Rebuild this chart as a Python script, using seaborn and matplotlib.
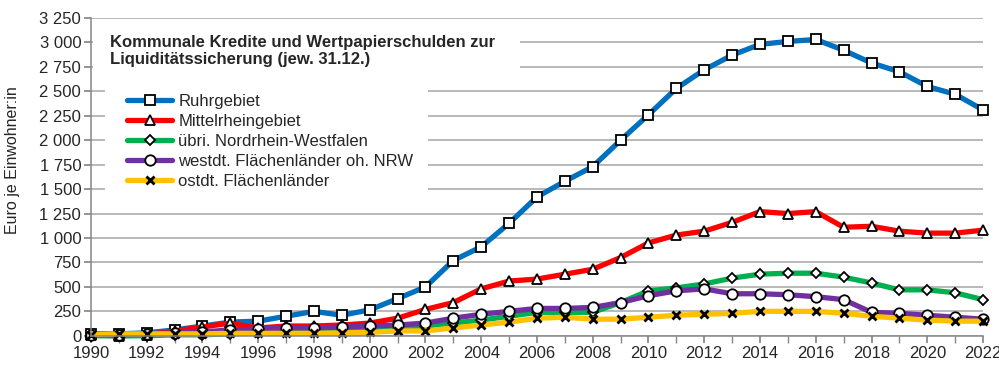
import matplotlib
matplotlib.use("Agg")
import matplotlib.pyplot as plt
import matplotlib.ticker as mticker
from matplotlib.lines import Line2D
from matplotlib.patches import Rectangle
import seaborn as sns
import pandas as pd

years = list(range(1990, 2023))
ruhrgebiet = [20, 20, 30, 60, 100, 140, 150, 200, 250, 210, 265, 380, 500, 770, 910, 1150,
              1420, 1580, 1730, 2000, 2260, 2530, 2720, 2870, 2980, 3010, 3030, 2920, 2790,
              2700, 2550, 2470, 2310]
mittelrhein = [10, 0, 10, 50, 90, 130, 80, 100, 100, 110, 130, 180, 270, 340, 480, 560,
               580, 630, 680, 800, 950, 1030, 1070, 1160, 1270, 1250, 1270, 1110, 1120,
               1070, 1050, 1050, 1080]
uebri_nrw = [0, 0, 0, 10, 10, 20, 30, 40, 40, 45, 50, 70, 100, 130, 160, 200,
             240, 240, 240, 340, 460, 490, 530, 590, 630, 640, 640, 600, 540,
             470, 470, 440, 370]
westdt = [10, 10, 20, 30, 40, 60, 70, 80, 80, 90, 100, 110, 130, 180, 220, 250,
          280, 280, 290, 340, 410, 460, 480, 430, 430, 420, 400, 370, 240,
          230, 210, 190, 170]
ostdt = [10, 20, 20, 20, 20, 25, 25, 25, 25, 30, 35, 50, 50, 80, 110, 140,
         180, 190, 170, 170, 190, 210, 220, 230, 250, 250, 250, 230, 200,
         180, 160, 150, 150]

series_names = ["Ruhrgebiet", "Mittelrheingebiet", "übri. Nordrhein-Westfalen",
                "westdt. Flächenländer oh. NRW", "ostdt. Flächenländer"]
series_values = [ruhrgebiet, mittelrhein, uebri_nrw, westdt, ostdt]
colors = ["#0070C0", "#FF0000", "#00B050", "#7030A0", "#FFC000"]
markers = ["s", "^", "D", "o", "x"]
title = "Kommunale Kredite und Wertpapierschulden zur\nLiquiditätssicherung (jew. 31.12.)"
ylabel = "Euro je Einwohner:in"

rows = []
for name, vals in zip(series_names, series_values):
    for y, v in zip(years, vals):
        rows.append({"Jahr": y, "Wert": v, "Region": name})
df = pd.DataFrame(rows)

sns.set_theme(style="white")
plt.rcParams["font.family"] = ["Liberation Sans", "DejaVu Sans"]

fig = plt.figure(figsize=(9.99, 3.67), dpi=100)
ax = fig.add_axes([0.091, 0.085, 0.893, 0.866])

sns.lineplot(data=df, x="Jahr", y="Wert", hue="Region", style="Region",
             hue_order=series_names, style_order=series_names,
             palette=colors, markers=dict(zip(series_names, ["s", "^", "D", "o", "X"])),
             dashes=False, linewidth=3.8, legend=False, ax=ax)

msizes = [7, 7, 5, 7.5, 6]
for line, m, ms in zip(ax.get_lines(), markers, msizes):
    line.set_marker(m)
    line.set_markersize(ms)
    line.set_markeredgecolor("black")
    line.set_markeredgewidth(1.3 if m != "x" else 2.0)
    line.set_markerfacecolor("white")
    line.set_solid_capstyle("round")
    line.set_clip_on(False)

ax.set_xlim(1990, 2022)
ax.set_ylim(0, 3250)
ax.yaxis.set_major_locator(mticker.MultipleLocator(250))
ax.yaxis.set_major_formatter(mticker.FuncFormatter(lambda v, p: f"{v:,.0f}".replace(",", " ")))
ax.xaxis.set_major_locator(mticker.MultipleLocator(2))
ax.xaxis.set_minor_locator(mticker.MultipleLocator(1))
ax.xaxis.set_major_formatter(mticker.FuncFormatter(lambda v, p: f"{int(v)}"))

ax.grid(axis="y", color="#A6A6A6", linewidth=1.1)
ax.set_axisbelow(True)
for s in ["top", "right"]:
    ax.spines[s].set_visible(False)
for s in ["left", "bottom"]:
    ax.spines[s].set_color("#868686")
    ax.spines[s].set_linewidth(1.1)

ax.tick_params(axis="y", which="major", direction="out", length=5, color="#868686",
               labelsize=12, pad=2, left=True)
ax.tick_params(axis="x", which="both", direction="out", length=5, color="#868686",
               labelsize=12, pad=2, bottom=True)
ax.set_xlabel("")
ax.set_ylabel(ylabel, fontsize=11.5)
ax.yaxis.set_label_coords(-0.079, 0.553)

# white boxes behind title and legend (hide gridlines)
ax.add_patch(Rectangle((0.002, 0.81), 0.479, 0.15, transform=ax.transAxes,
                       facecolor="white", edgecolor="none", zorder=1.2))
ax.add_patch(Rectangle((0.016, 0.43), 0.362, 0.37, transform=ax.transAxes,
                       facecolor="white", edgecolor="none", zorder=1.2))

ax.text(0.021, 0.947, title, transform=ax.transAxes, fontsize=12, fontweight="bold",
        va="top", ha="left", linespacing=1.2, zorder=1.5)

handles = [Line2D([0], [0], color=c, lw=3.8, marker=m, markersize=ms,
                  markerfacecolor="white", markeredgecolor="black",
                  markeredgewidth=1.3 if m != "x" else 2.0)
           for c, m, ms in zip(colors, markers, msizes)]
leg = ax.legend(handles, series_names, loc="upper left", bbox_to_anchor=(0.041, 0.76),
                frameon=False, fontsize=12, handlelength=2.65, handletextpad=0.4,
                labelspacing=0.3, borderpad=0, borderaxespad=0)

fig.savefig("out.png", dpi=100)
